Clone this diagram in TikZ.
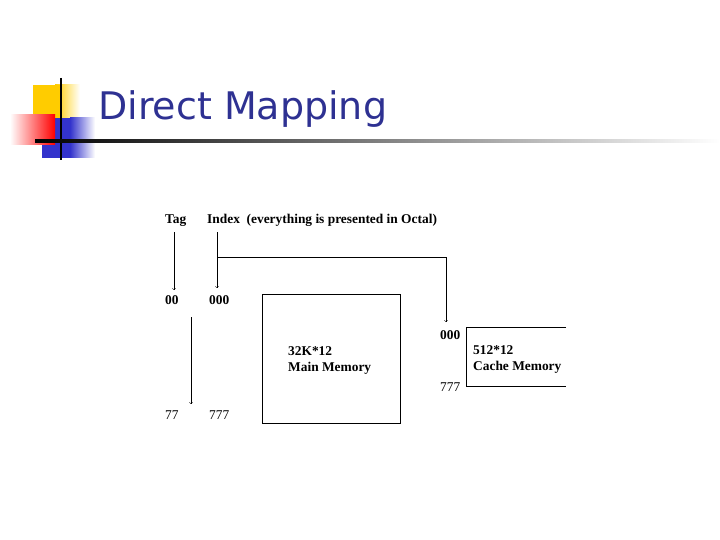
\documentclass[tikz,border=0pt]{standalone}
\usepackage{fontspec}
\setmainfont{Liberation Serif}
\newfontfamily\titlefont{DejaVu Sans}
\definecolor{titleblue}{HTML}{2E3192}
\definecolor{decoyellow}{HTML}{FFCC00}
\definecolor{decoblue}{HTML}{3333CC}
\begin{document}
\begin{tikzpicture}[x=1pt,y=-1pt,
  lbl/.style={font=\bfseries\fontsize{13.4}{15}\selectfont,inner sep=0pt},
  num/.style={font=\fontsize{13.4}{15}\selectfont,inner sep=0pt},
  arr/.style={->,>=to,thin}]
\useasboundingbox (0,0) rectangle (720,540);
% decoration
\shade[left color=decoyellow, right color=white] (55,85) rectangle (80,118);
\fill[decoyellow] (33,85) rectangle (60,118);
\fill[decoblue] (42,118) rectangle (70,158);
\shade[left color=decoblue, right color=white] (70,118) rectangle (95,158);
\shade[left color=white, right color=red] (10,115) rectangle (55,145);
\draw[line width=2pt] (61,78) -- (61,160);
\shade[left color=black, right color=white] (35,140) rectangle (720,142.5);
\node[anchor=base west, inner sep=0pt, text=titleblue, font=\titlefont\fontsize{38}{42}\selectfont] (title) at (98,120) {Direct Mapping};
% labels
\node[lbl, anchor=base west] (tag) at (165,223) {Tag};
\node[lbl, anchor=base west] (idx) at (207,223) {Index\ \ (everything is presented in Octal)};
\node[lbl, anchor=base west] (t00) at (165,304) {00};
\node[lbl, anchor=base west] (i000) at (209,304) {000};
\node[num, anchor=base west] (t77) at (165,419) {77};
\node[num, anchor=base west] (i777) at (209,419) {777};
\node[lbl, anchor=base west] (c000) at (440,339) {000};
\node[num, anchor=base west] (c777) at (440,391) {777};
% boxes
\node[draw, minimum width=138, minimum height=129, anchor=north west, inner sep=0pt] (mm) at (262,294) {};
\node[lbl, anchor=base west] (mmtxt) at (288,355) {32K*12};
\node[lbl, anchor=base west] (mmtxt2) at (288,371) {Main Memory};
\coordinate (ctr) at (566,327);
\coordinate (cbr) at (566,386);
\draw (ctr) -- (466,327) -- (466,386) -- (cbr);
\node[lbl, anchor=base west] (cm1) at (473,354) {512*12};
\node[lbl, anchor=base west] (cm2) at (473,370) {Cache Memory};
% arrows
\coordinate (ta) at (174,232);
\coordinate (tb) at (174,290);
\draw[arr] (ta) -- (tb);
\coordinate (ia) at (217,232);
\coordinate (ib) at (217,288);
\draw[arr] (ia) -- (ib);
\coordinate (ic) at (217,257);
\coordinate (id) at (446,322);
\draw[arr] (ic) -| (id);
\coordinate (ra) at (191,317);
\coordinate (rb) at (191,404);
\draw[arr] (ra) -- (rb);
\end{tikzpicture}
\end{document}
